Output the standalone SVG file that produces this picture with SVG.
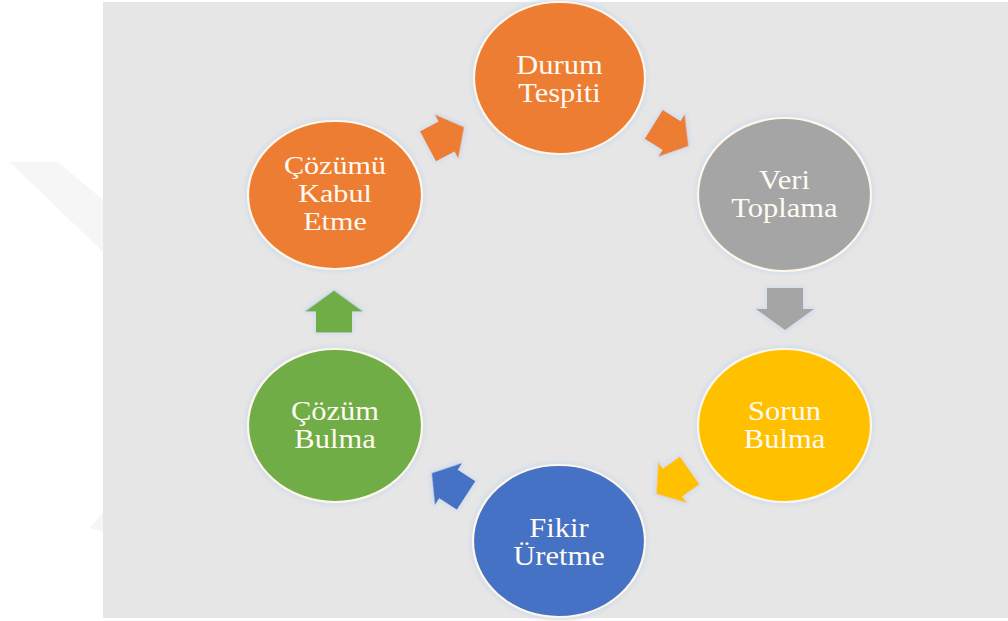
<svg xmlns="http://www.w3.org/2000/svg" width="1008" height="621" viewBox="0 0 1008 621">
<style>
.bg{fill:#E7E6E6}
.wm{fill:#F6F6F6}
.node{stroke:#FFF6EA;stroke-width:2.2;filter:url(#glow)}
.arr{filter:url(#glow)}
.t{font-family:"Liberation Serif","Times New Roman",serif;font-size:27px;fill:#FFFAF2;text-anchor:middle}
.t3{font-size:26px}
.or{fill:#ED7D31}.gr{fill:#A5A5A5}.ye{fill:#FFC000}.bl{fill:#4472C4}.gn{fill:#70AD47}
</style>
<defs>
<filter id="glow" x="-20%" y="-20%" width="140%" height="140%">
<feMorphology in="SourceAlpha" operator="dilate" radius="2" result="d"/>
<feGaussianBlur in="d" stdDeviation="2" result="b"/>
<feFlood flood-color="#D3DEEA" result="c"/>
<feComposite in="c" in2="b" operator="in" result="g"/>
<feMerge><feMergeNode in="g"/><feMergeNode in="SourceGraphic"/></feMerge>
</filter>
<path id="ad" d="M-21,-17 L0,-17 L0,-25 L20,0 L0,25 L0,17 L-21,17 Z"/>
<path id="av" d="M-21,-18 L0,-18 L0,-29 L21,0 L0,29 L0,18 L-21,18 Z"/>
</defs>
<rect width="1008" height="621" fill="#FFFFFF"/>
<polygon class="wm" points="10,162 58,162 103,200 103,252"/>
<polygon class="wm" points="90,528 103,512 103,532"/>
<rect class="bg" x="103" y="2" width="905" height="616"/>
<g id="connectors">
<use href="#ad" class="arr or" transform="translate(446.5,136.5) rotate(-28)"/>
<use href="#ad" class="arr or" transform="translate(671.5,135.5) rotate(32)"/>
<use href="#av" class="arr gr" transform="translate(785,309) rotate(90)"/>
<use href="#ad" class="arr ye" transform="translate(672.5,482.5) rotate(145)"/>
<use href="#ad" class="arr bl" transform="translate(448.5,484) rotate(213)"/>
<use href="#av" class="arr gn" transform="translate(334,311.5) rotate(-90)"/>
</g>
<g id="durum-tespiti">
<ellipse class="node or" cx="559.5" cy="78" rx="85.5" ry="76"/>
<text class="t" transform="translate(559.5,0) scale(1.13,1)"><tspan x="0" y="74">Durum</tspan><tspan x="0" y="102">Tespiti</tspan></text>
</g>
<g id="veri-toplama">
<ellipse class="node gr" cx="784.5" cy="194.5" rx="86.5" ry="76.5"/>
<text class="t" transform="translate(784.5,0) scale(1.13,1)"><tspan x="0" y="189">Veri</tspan><tspan x="0" y="217">Toplama</tspan></text>
</g>
<g id="sorun-bulma">
<ellipse class="node ye" cx="784.5" cy="425.5" rx="86.5" ry="76.5"/>
<text class="t" transform="translate(784.5,0) scale(1.13,1)"><tspan x="0" y="420">Sorun</tspan><tspan x="0" y="448">Bulma</tspan></text>
</g>
<g id="fikir-uretme">
<ellipse class="node bl" cx="559" cy="541" rx="86" ry="76"/>
<text class="t" transform="translate(559,0) scale(1.13,1)"><tspan x="0" y="537">Fikir</tspan><tspan x="0" y="565">Üretme</tspan></text>
</g>
<g id="cozum-bulma">
<ellipse class="node gn" cx="335" cy="425.5" rx="87" ry="76.5"/>
<text class="t" transform="translate(335,0) scale(1.13,1)"><tspan x="0" y="420">Çözüm</tspan><tspan x="0" y="448">Bulma</tspan></text>
</g>
<g id="cozumu-kabul-etme">
<ellipse class="node or" cx="335" cy="195" rx="87" ry="74"/>
<text class="t t3" transform="translate(335,0) scale(1.16,1)"><tspan x="0" y="174">Çözümü</tspan><tspan x="0" y="202">Kabul</tspan><tspan x="0" y="230">Etme</tspan></text>
</g>
</svg>
